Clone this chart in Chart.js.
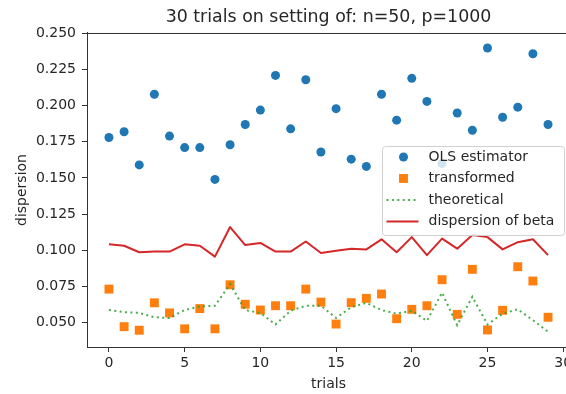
<!DOCTYPE html>
<html lang="en">
<head>
  <meta charset="UTF-8">
  <title>30 trials on setting of: n=50, p=1000</title>
  <script src="https://cdn.jsdelivr.net/npm/chart.js"></script>
  <style>
    html, body { margin: 0; padding: 0; background: #fff; overflow: hidden; }
    #wrap { width: 580px; height: 394px; }
  </style>
</head>
<body>
  <div id="wrap">
    <canvas id="trialsChart" width="580" height="394"></canvas>
  </div>

  <script>
    // datos
    const trials = [0, 1, 2, 3, 4, 5, 6, 7, 8, 9, 10, 11, 12, 13, 14, 15, 16, 17, 18, 19, 20, 21, 22, 23, 24, 25, 26, 27, 28, 29];
    const olsEstimator = [0.178, 0.182, 0.159, 0.208, 0.179, 0.171, 0.171, 0.149, 0.173, 0.187, 0.197, 0.221, 0.184, 0.218, 0.168,
                          0.198, 0.163, 0.158, 0.208, 0.190, 0.219, 0.203, 0.160, 0.195, 0.183, 0.240, 0.192, 0.199, 0.236, 0.187];
    const transformed = [0.073, 0.047, 0.0445, 0.0635, 0.0565, 0.0455, 0.0595, 0.0455, 0.076, 0.0625, 0.0585, 0.0615, 0.0615, 0.073, 0.064,
                         0.0488, 0.0636, 0.0666, 0.0696, 0.0525, 0.059, 0.0615, 0.0795, 0.0555, 0.0867, 0.0447, 0.0583, 0.0885, 0.0786, 0.0535];
    const theoretical = [0.0585, 0.057, 0.0565, 0.0535, 0.053, 0.0585, 0.061, 0.0615, 0.0765, 0.0585, 0.0565, 0.0485, 0.058, 0.0615, 0.0615,
                         0.053, 0.0605, 0.0635, 0.0585, 0.056, 0.058, 0.051, 0.0705, 0.048, 0.0677, 0.0485, 0.056, 0.059, 0.0515, 0.0435];
    const dispersionBeta = [0.104, 0.103, 0.0985, 0.099, 0.099, 0.104, 0.103, 0.0955, 0.116, 0.1035, 0.105, 0.099, 0.099, 0.106, 0.098,
                            0.0995, 0.101, 0.1005, 0.1075, 0.0985, 0.109, 0.0965, 0.108, 0.101, 0.1105, 0.109, 0.1005, 0.1055, 0.1075, 0.0965];
    const xTicks = [0, 5, 10, 15, 20, 25, 30];
    const yTicks = [0.050, 0.075, 0.100, 0.125, 0.150, 0.175, 0.200, 0.225, 0.250];

    const FONT = "'DejaVu Sans', sans-serif";
    const TXT = '#262626';

    const pts = vals => trials.map((t, i) => ({ x: t, y: vals[i] }));

    // Marco completo (arriba y derecha)
    const framePlugin = {
      id: 'frame',
      afterDatasetsDraw(chart) {
        const { ctx, chartArea: a } = chart;
        ctx.save();
        ctx.strokeStyle = '#333';
        ctx.lineWidth = 1;
        ctx.strokeRect(a.left + 0.5, a.top + 0.5, a.right - a.left, a.bottom - a.top);
        ctx.restore();
      }
    };

    // Leyenda dentro del area, como la de matplotlib
    const boxLegend = {
      id: 'boxLegend',
      afterDraw(chart) {
        const { ctx, chartArea: a } = chart;
        const x0 = a.left + 295.5, y0 = a.top + 113.5, w = 182, h = 89;
        ctx.save();
        ctx.beginPath();
        ctx.roundRect(x0, y0, w, h, 3);
        ctx.fillStyle = 'rgba(255,255,255,0.8)';
        ctx.fill();
        ctx.strokeStyle = '#d0d0d0';
        ctx.lineWidth = 1;
        ctx.stroke();

        ctx.font = '14px ' + FONT;
        ctx.textBaseline = 'middle';
        ctx.fillStyle = TXT;
        chart.data.datasets.forEach((ds, i) => {
          const cy = y0 + 10.5 + i * 21.5;
          const mx = x0 + 21;
          ctx.save();
          if (ds.showLine) {
            ctx.strokeStyle = ds.borderColor;
            ctx.lineWidth = ds.borderWidth;
            ctx.setLineDash(ds.borderDash || []);
            ctx.beginPath();
            ctx.moveTo(mx - 17, cy);
            ctx.lineTo(mx + 15, cy);
            ctx.stroke();
          } else if (ds.pointStyle === 'rect') {
            const s = ds.pointRadius * Math.SQRT1_2;
            ctx.fillStyle = ds.backgroundColor;
            ctx.fillRect(mx - s, cy - s, 2 * s, 2 * s);
          } else {
            ctx.fillStyle = ds.backgroundColor;
            ctx.beginPath();
            ctx.arc(mx, cy, ds.pointRadius, 0, Math.PI * 2);
            ctx.fill();
          }
          ctx.restore();
          ctx.fillText(ds.label, x0 + 46, cy);
        });
        ctx.restore();
      }
    };

    window.onload = () => {
      Chart.defaults.font.family = FONT;
      Chart.defaults.color = TXT;

      const ctx = document.getElementById('trialsChart').getContext('2d');
      new Chart(ctx, {
        type: 'scatter',
        data: {
          datasets: [
            {
              label: 'OLS estimator',
              data: pts(olsEstimator),
              pointStyle: 'circle',
              pointRadius: 4.5,
              backgroundColor: '#1f77b4',
              borderColor: '#1f77b4',
              borderWidth: 0,
              order: 4
            },
            {
              label: 'transformed',
              data: pts(transformed),
              pointStyle: 'rect',
              pointRadius: 6.3,
              backgroundColor: '#ff7f0e',
              borderColor: '#ff7f0e',
              borderWidth: 0,
              order: 3
            },
            {
              label: 'theoretical',
              data: pts(theoretical),
              showLine: true,
              pointRadius: 0,
              borderColor: 'rgba(44,160,44,0.85)',
              borderWidth: 2,
              borderDash: [2, 3.4],
              order: 2
            },
            {
              label: 'dispersion of beta',
              data: pts(dispersionBeta),
              showLine: true,
              pointRadius: 0,
              borderColor: '#d62728',
              borderWidth: 2,
              borderJoinStyle: 'round',
              order: 1
            }
          ]
        },
        options: {
          responsive: false,
          animation: false,
          layout: { padding: { left: 0, right: 10, top: 0, bottom: 0 } },
          plugins: {
            legend: { display: false },
            tooltip: { enabled: false },
            title: {
              display: true,
              fullSize: false,
              text: '30 trials on setting of: n=50, p=1000',
              color: TXT,
              font: { size: 17.4, weight: 'normal' },
              padding: { top: 7, bottom: 5.1 }
            }
          },
          scales: {
            x: {
              type: 'linear',
              min: -1.45,
              max: 30.45,
              afterBuildTicks: s => { s.ticks = xTicks.map(v => ({ value: v })); },
              afterFit: s => { s.height = 47; },
              ticks: { color: TXT, font: { size: 14 }, padding: 3, maxRotation: 0 },
              grid: { drawOnChartArea: false, tickLength: 5, color: '#333' },
              border: { color: '#333' },
              title: { display: true, text: 'trials', color: TXT, font: { size: 14 }, padding: { top: 0, bottom: 1.6 } }
            },
            y: {
              min: 0.0329,
              max: 0.2504,
              afterBuildTicks: s => { s.ticks = yTicks.map(v => ({ value: v })); },
              afterFit: s => { s.width = 87; },
              ticks: { color: TXT, font: { size: 14 }, padding: 6, callback: v => v.toFixed(3) },
              grid: { drawOnChartArea: false, tickLength: 5, color: '#333' },
              border: { color: '#333' },
              title: { display: true, text: 'dispersion', color: TXT, font: { size: 14 }, padding: { top: 13.6, bottom: 0 } }
            }
          }
        },
        plugins: [framePlugin, boxLegend]
      });
    };
  </script>
</body>
</html>
